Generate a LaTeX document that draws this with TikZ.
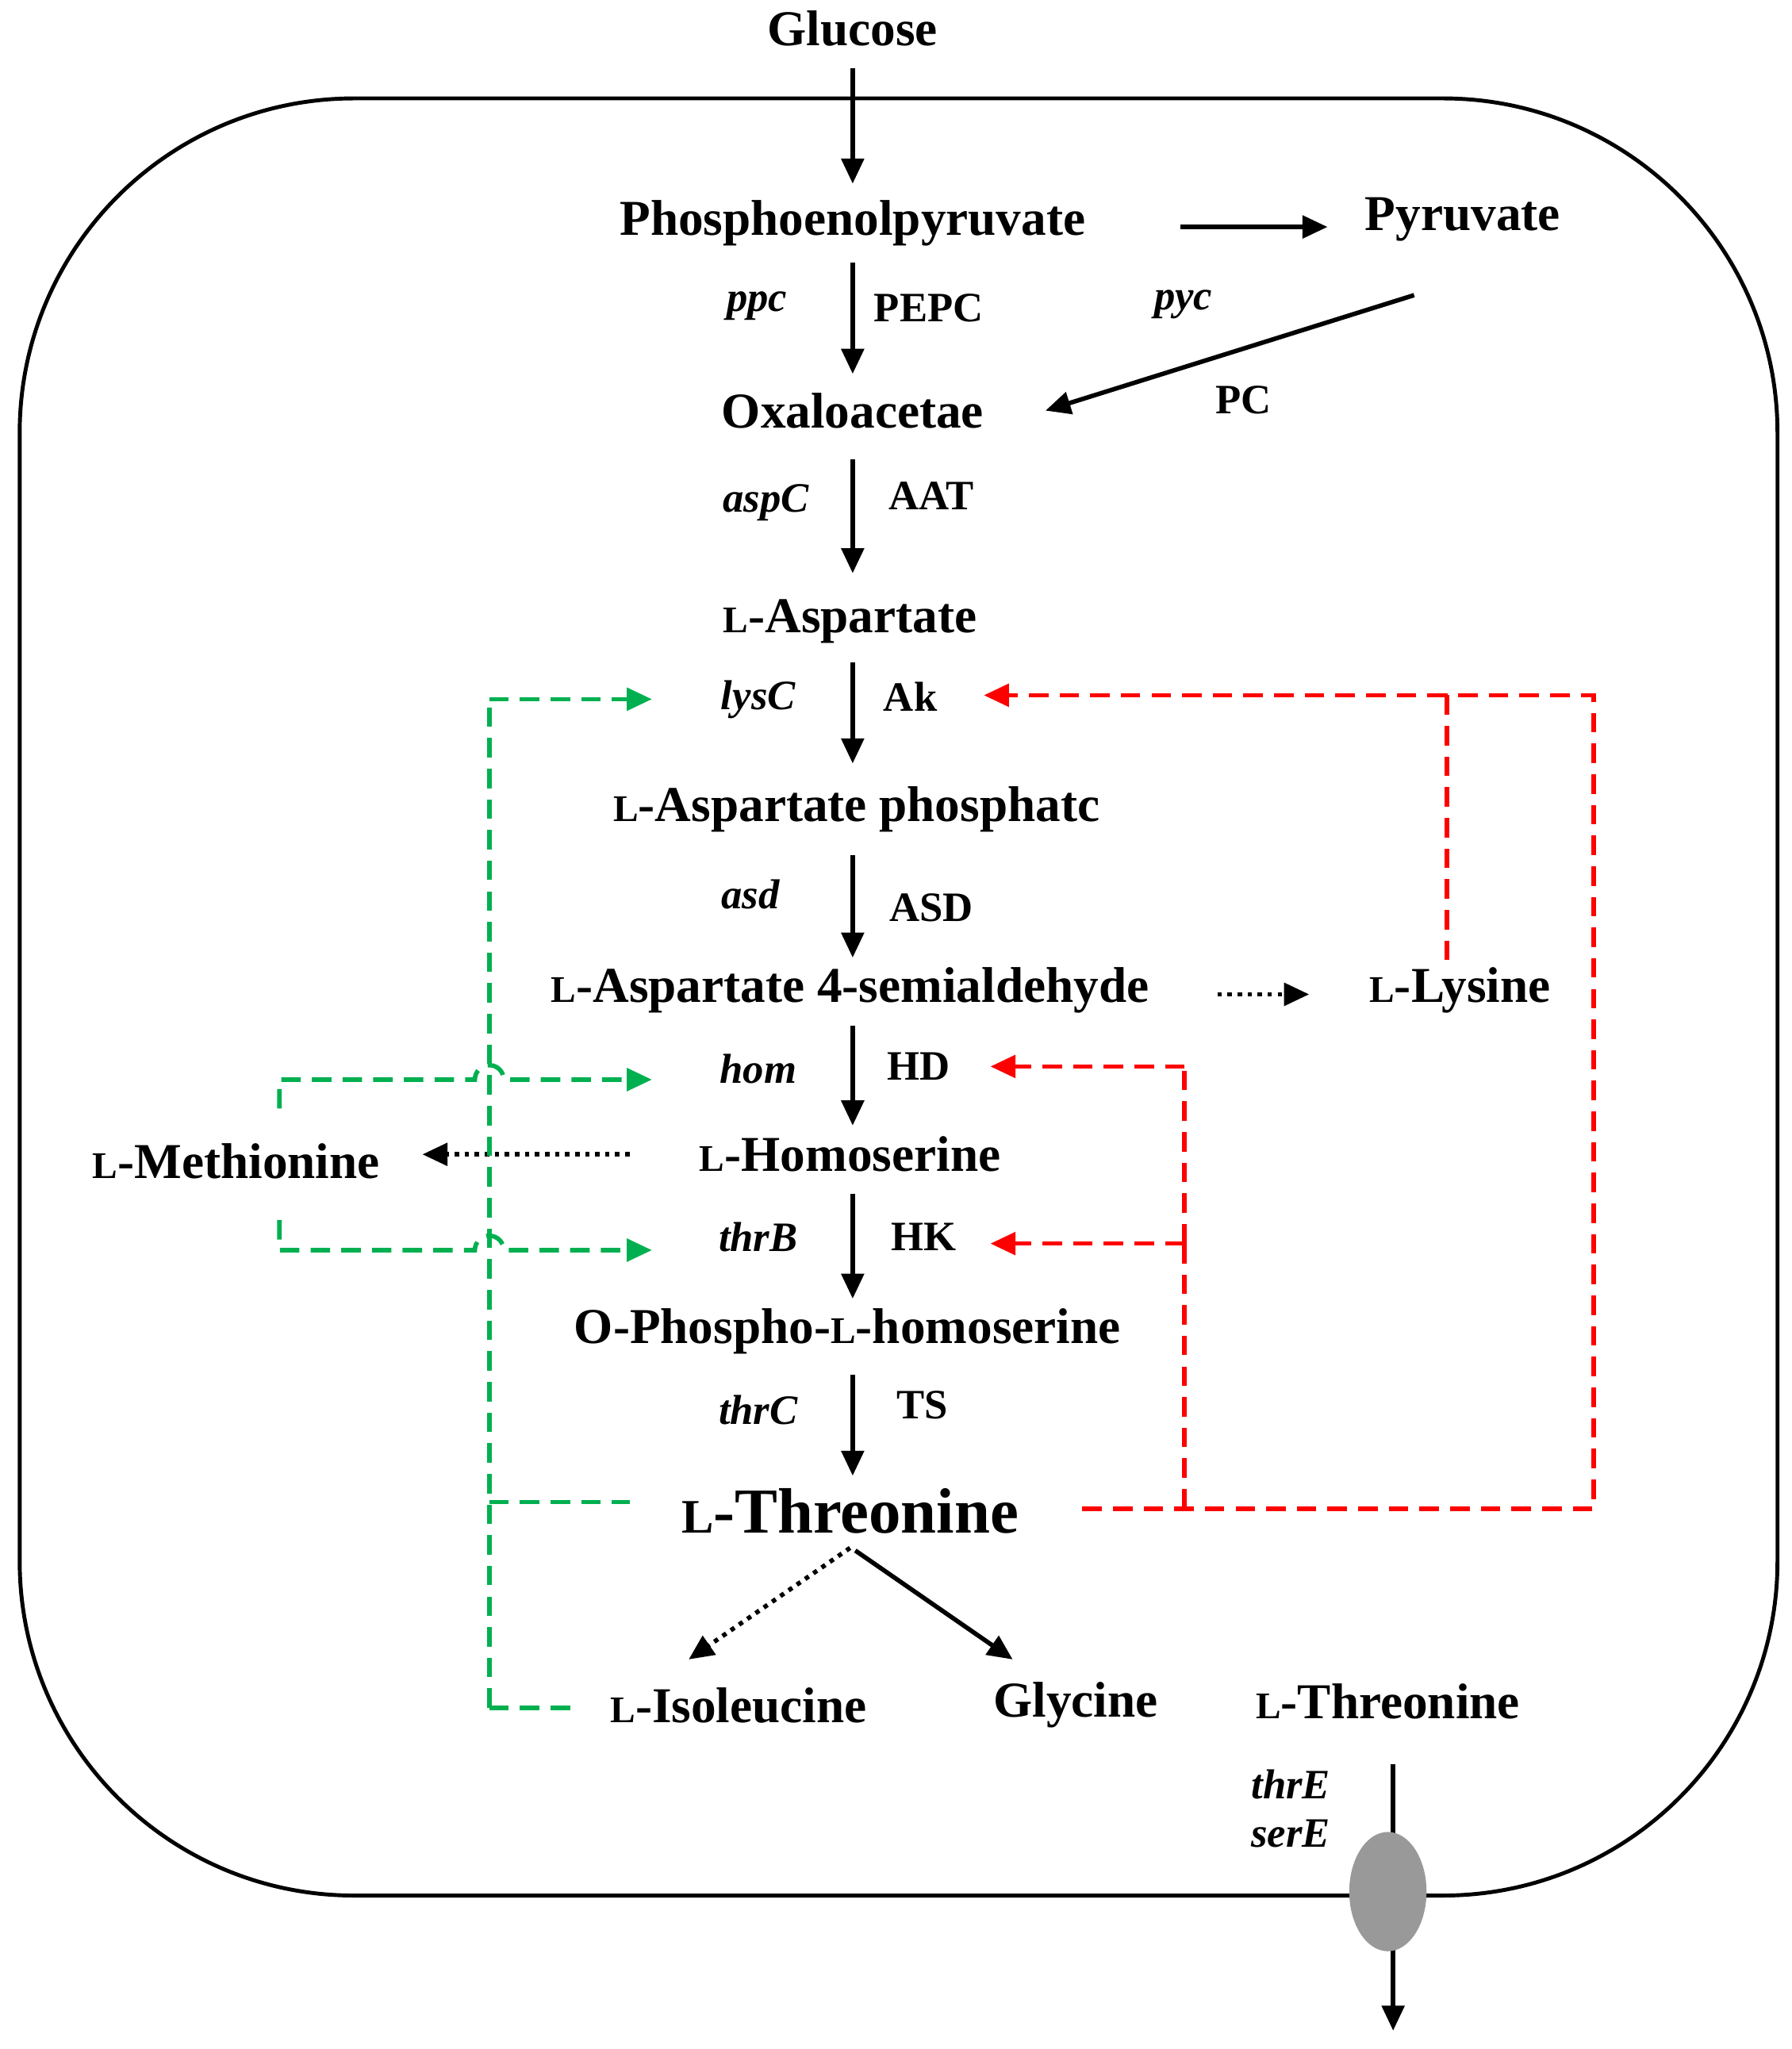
\documentclass[tikz,border=0pt]{standalone}
\usepackage{fontspec}
\setmainfont{Liberation Serif}
\usetikzlibrary{arrows.meta,shapes.geometric}
\definecolor{inhibgreen}{RGB}{0,176,80}
\definecolor{inhibred}{RGB}{255,0,0}
\newcommand{\Lsc}{{\scalebox{0.75}{L}}}
\tikzset{
  met/.style={font=\fontsize{18}{21}\selectfont\bfseries, inner sep=1pt},
  big/.style={font=\fontsize{23}{27}\selectfont\bfseries, inner sep=1pt},
  gene/.style={font=\fontsize{15}{18}\selectfont\bfseries\itshape, inner sep=1pt},
  enz/.style={font=\fontsize{15}{18}\selectfont\bfseries, inner sep=1pt},
  flow/.style={line width=1.6pt, -{Triangle[length=9pt,width=8pt]}},
  dotflow/.style={flow, dotted},
  grn/.style={inhibgreen, line width=1.6pt, dash pattern=on 7pt off 4pt},
  rd/.style={inhibred, line width=1.6pt, dash pattern=on 7pt off 4pt},
  tip/.style={-{Triangle[length=9pt,width=8pt]}}
}
\begin{document}
\begin{tikzpicture}[x=0.01654cm, y=-0.01654cm]
\useasboundingbox (0,0) rectangle (1366,1562);
% cell
\draw[line width=1.4pt, rounded corners=120] (15,75) rectangle (1355,1445);
% metabolites
\node[met] (glc) at (650,22) {Glucose};
\node[met] (pep) at (650,170) {Phosphoenolpyruvate};
\node[met] (pyr) at (1115,167) {Pyruvate};
\node[met] (oaa) at (650,313) {Oxaloacetae};
\node[met] (asp) at (648,474) {\Lsc-Aspartate};
\node[met] (aspp) at (653,617) {\Lsc-Aspartate phosphatc};
\node[met] (asa) at (648,755) {\Lsc-Aspartate 4-semialdehyde};
\node[met] (lys) at (1113,755) {\Lsc-Lysine};
\node[met] (hse) at (648,880) {\Lsc-Homoserine};
\node[met] (met) at (180,885) {\Lsc-Methionine};
\node[met] (ophs) at (646,1015) {O-Phospho-\Lsc-homoserine};
\node[big] (thr) at (648,1152) {\Lsc-Threonine};
\node[met] (ile) at (563,1300) {\Lsc-Isoleucine};
\node[met] (gly) at (820,1300) {Glycine};
\node[met] (thrx) at (1058,1297) {\Lsc-Threonine};
% genes and enzymes
\node[gene] at (577,233) {ppc};   \node[enz] at (708,235) {PEPC};
\node[gene] at (902,232) {pyc};   \node[enz] at (948,305) {PC};
\node[gene] at (584,383) {aspC};  \node[enz] at (710,378) {AAT};
\node[gene] at (578,533) {lysC};  \node[enz] at (694,531) {Ak};
\node[gene] at (572,682) {asd};   \node[enz] at (710,692) {ASD};
\node[gene] at (578,815) {hom};   \node[enz] at (700,813) {HD};
\node[gene] at (578,943) {thrB};  \node[enz] at (704,943) {HK};
\node[gene] at (578,1075) {thrC}; \node[enz] at (703,1071) {TS};
\node[gene] at (984,1360) {thrE};
\node[gene] at (984,1398) {serE};
% pathway
\draw[flow] (650,52) -- (650,140);
\draw[flow] (900,173) -- (1012,173);
\draw[flow] (650,200) -- (650,285);
\draw[flow] (1078,225) -- (797,313);
\draw[flow] (650,350) -- (650,437);
\draw[flow] (650,505) -- (650,582);
\draw[flow] (650,652) -- (650,730);
\draw[dotflow] (928,758) -- (998,758);
\draw[flow] (650,782) -- (650,858);
\draw[dotflow] (480,880) -- (322,880);
\draw[flow] (650,910) -- (650,990);
\draw[flow] (650,1048) -- (650,1125);
\draw[dotflow] (648,1180) -- (525,1265);
\draw[flow] (652,1182) -- (772,1265);
% export
\draw[flow] (1062,1345) -- (1062,1548);
\node[ellipse, draw=gray!80, fill=gray!80, minimum width=0.96cm, minimum height=1.49cm] (exp) at (1058,1442) {};
% red feedback
\draw[rd] (825,1150) -- (1215,1150) -- (1215,530) -- (1103,530);
\draw[rd, tip] (1103,530) -- (750,530);
\draw[rd] (1103,530) -- (1103,735);
\draw[rd] (903,1150) -- (903,948);
\draw[rd, tip] (903,813) -- (755,813);
\draw[rd] (903,948) -- (903,813);
\draw[rd, tip] (903,948) -- (755,948);
% green feedback
\draw[grn] (373,1302) -- (373,533);
\draw[grn, tip] (373,533) -- (497,533);
\draw[grn] (373,1302) -- (435,1302);
\draw[grn] (373,1145) -- (480,1145);
\draw[grn, tip] (213,845) -- (213,823) -- (362,823) arc (180:360:11) -- (497,823);
\draw[grn, tip] (213,930) -- (213,953) -- (362,953) arc (180:360:11) -- (497,953);
\end{tikzpicture}
\end{document}
